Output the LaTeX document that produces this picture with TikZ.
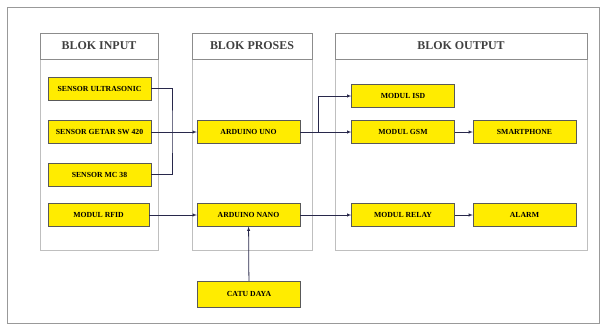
\documentclass[tikz,border=0pt]{standalone}
\usepackage{fontspec}
\setmainfont{Liberation Serif}
\definecolor{garis}{RGB}{40,40,75}
\definecolor{kuning}{RGB}{255,236,0}
\begin{document}
\begin{tikzpicture}[x=0.05cm,y=-0.05cm,
		blok/.style={draw=black!65,fill=kuning,minimum width=5.15cm,minimum height=1.15cm,inner sep=1pt,font=\bfseries\fontsize{11}{12}\selectfont},
		judul/.style={draw=black!45,minimum height=1.3cm,inner sep=1pt,text=black!75,font=\bfseries\fontsize{17}{19}\selectfont},
		panah/.style={->,>=latex,draw=garis,line width=1.1pt}]
		\useasboundingbox (0,0) rectangle (605,327);
		\draw[black!40,line width=0.8pt] (7,7) rectangle (599,323);
		% kolom
		\draw[black!25] (40,33) rectangle (158,250);
		\draw[black!25] (192,33) rectangle (312,250);
		\draw[black!25] (335,33) rectangle (587,250);
		\node[judul,minimum width=5.9cm] (jinput) at (99,46) {BLOK INPUT};
		\node[judul,minimum width=6cm] (jproses) at (252,46) {BLOK PROSES};
		\node[judul,minimum width=12.6cm] (joutput) at (461,46) {BLOK OUTPUT};
		% input
		\node[blok] (ultra) at (99.5,88.5) {SENSOR ULTRASONIC};
		\node[blok] (getar) at (99.5,132) {SENSOR GETAR SW 420};
		\node[blok] (mc) at (99.5,174.5) {SENSOR MC 38};
		\node[blok,minimum width=5.05cm] (rfid) at (98.5,215) {MODUL RFID};
		% proses
		\node[blok] (uno) at (248.5,132) {ARDUINO UNO};
		\node[blok] (nano) at (248.5,215) {ARDUINO NANO};
		\node[blok,minimum height=1.3cm] (catu) at (249,294) {CATU DAYA};
		% output
		\node[blok] (isd) at (403,96) {MODUL ISD};
		\node[blok] (gsm) at (403,132) {MODUL GSM};
		\node[blok] (hp) at (524.5,132) {SMARTPHONE};
		\node[blok] (relay) at (403,215) {MODUL RELAY};
		\node[blok] (alarm) at (524.5,215) {ALARM};
		\coordinate (bus) at (172,132);
		\coordinate (cabang) at (318,132);
		\draw[garis,line width=1.1pt] (ultra.east) -| (bus) |- (mc.east);
		\draw[panah] (getar.east) -- (uno.west);
		\draw[panah] (rfid.east) -- (nano.west);
		\draw[garis,line width=1.1pt] (uno.east) -- (cabang);
		\draw[panah] (cabang) -- (gsm.west);
		\draw[panah] (cabang) |- (isd.west);
		\draw[panah] (gsm) -- (hp);
		\draw[panah] (nano) -- (relay);
		\draw[panah] (relay) -- (alarm);
		\draw[panah] (catu) -- (nano);
	\end{tikzpicture}
\end{document}
